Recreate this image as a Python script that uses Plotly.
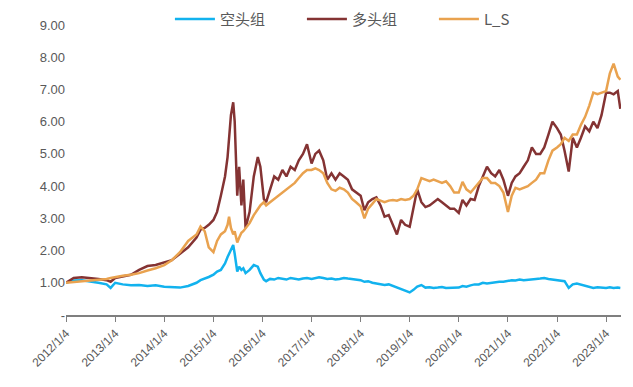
import plotly.graph_objects as go

DATES = [
    "2012-01-04", "2012-03-01", "2012-05-01", "2012-07-01", "2012-09-01", "2012-11-01", "2012-12-01",
    "2013-01-04", "2013-03-01", "2013-05-01", "2013-07-01", "2013-09-01", "2013-11-01",
    "2014-01-04", "2014-03-01", "2014-05-01", "2014-07-01", "2014-09-01", "2014-10-01", "2014-11-01", "2014-12-01",
    "2015-01-05", "2015-02-01", "2015-03-01", "2015-04-01", "2015-04-20", "2015-05-01", "2015-05-15",
    "2015-06-01", "2015-06-12", "2015-07-01", "2015-07-15", "2015-08-01", "2015-08-15", "2015-09-01",
    "2015-10-01", "2015-11-01", "2015-12-01", "2015-12-20",
    "2016-01-15", "2016-02-01", "2016-03-01", "2016-04-01", "2016-05-01", "2016-06-01", "2016-07-01",
    "2016-08-01", "2016-09-01", "2016-10-01", "2016-11-01", "2016-12-01",
    "2017-01-04", "2017-02-01", "2017-03-01", "2017-04-01", "2017-05-01", "2017-06-01", "2017-07-01",
    "2017-08-01", "2017-09-01", "2017-10-01", "2017-11-01", "2017-12-01",
    "2018-01-04", "2018-02-01", "2018-03-01", "2018-04-01", "2018-05-01", "2018-06-01", "2018-07-01",
    "2018-08-01", "2018-09-01", "2018-10-01", "2018-11-01", "2018-12-01",
    "2019-01-04", "2019-02-01", "2019-03-01", "2019-04-01", "2019-05-01", "2019-06-01", "2019-07-01",
    "2019-08-01", "2019-09-01", "2019-10-01", "2019-11-01", "2019-12-01",
    "2020-01-04", "2020-02-01", "2020-03-01", "2020-04-01", "2020-05-01", "2020-06-01", "2020-07-01",
    "2020-08-01", "2020-09-01", "2020-10-01", "2020-11-01", "2020-12-01",
    "2021-01-04", "2021-02-01", "2021-03-01", "2021-04-01", "2021-05-01", "2021-06-01", "2021-07-01",
    "2021-08-01", "2021-09-01", "2021-10-01", "2021-11-01", "2021-12-01",
    "2022-01-04", "2022-02-01", "2022-03-01", "2022-04-01", "2022-05-01", "2022-06-01", "2022-07-01",
    "2022-08-01", "2022-09-01", "2022-10-01", "2022-11-01", "2022-12-01",
    "2023-01-04", "2023-02-01", "2023-03-01", "2023-04-01", "2023-04-20",
]

SHORT = [  # 空头组
    1.00, 1.07, 1.08, 1.05, 1.00, 0.95, 0.84,
    1.00, 0.95, 0.92, 0.93, 0.90, 0.92,
    0.88, 0.87, 0.85, 0.90, 1.00, 1.08, 1.12, 1.18,
    1.25, 1.35, 1.40, 1.60, 1.80, 1.90, 2.05,
    2.17, 1.90, 1.35, 1.50, 1.40, 1.45, 1.30,
    1.40, 1.55, 1.50, 1.30,
    1.10, 1.05, 1.12, 1.10, 1.15, 1.12, 1.10,
    1.15, 1.12, 1.10, 1.13, 1.15,
    1.12, 1.15, 1.17, 1.15, 1.12, 1.13, 1.10,
    1.12, 1.15, 1.13, 1.12, 1.10,
    1.08, 1.03, 1.05, 1.00, 0.98, 0.95, 0.93,
    0.95, 0.90, 0.85, 0.80, 0.75,
    0.70, 0.78, 0.88, 0.93, 0.85, 0.86, 0.84,
    0.85, 0.87, 0.84, 0.85, 0.86,
    0.85, 0.90, 0.88, 0.92, 0.95, 0.95, 1.00,
    0.98, 1.00, 1.02, 1.03, 1.03,
    1.05, 1.08, 1.07, 1.10, 1.08, 1.10, 1.10,
    1.12, 1.13, 1.15, 1.12, 1.10,
    1.10, 1.08, 1.05, 0.84, 0.95, 0.98, 0.95,
    0.92, 0.88, 0.84, 0.86, 0.85,
    0.84, 0.86, 0.84, 0.85, 0.84,
]

LONG = [  # 多头组
    1.00, 1.15, 1.17, 1.15, 1.12, 1.08, 1.03,
    1.15, 1.20, 1.25, 1.40, 1.52, 1.55,
    1.62, 1.70, 1.90, 2.10, 2.40, 2.65, 2.70, 2.80,
    2.95, 3.20, 3.70, 4.30, 4.90, 5.50, 6.20,
    6.60, 6.00, 3.70, 4.60, 3.40, 4.20, 2.70,
    3.20, 4.30, 4.90, 4.60,
    3.60, 3.50, 3.90, 4.30, 4.20, 4.50, 4.30,
    4.60, 4.50, 4.80, 5.00, 5.30,
    4.70, 5.00, 5.10, 4.80, 4.20, 4.40, 4.20,
    4.40, 4.30, 4.20, 3.90, 3.80,
    3.70, 3.25, 3.50, 3.60, 3.65, 3.40, 3.05,
    3.10, 2.80, 2.50, 2.95, 2.80,
    2.74, 3.30, 3.90, 3.50, 3.35, 3.40, 3.50,
    3.60, 3.50, 3.40, 3.30, 3.30,
    3.17, 3.57, 3.40, 3.60, 3.57, 4.00, 4.30,
    4.60, 4.40, 4.30, 4.50, 4.20,
    3.70, 4.10, 4.30, 4.40, 4.60, 4.80, 5.20,
    5.00, 5.00, 5.20, 5.60, 6.00,
    5.80, 5.60, 5.10, 4.45, 5.50, 5.20, 5.50,
    5.85, 5.70, 6.00, 5.80, 6.20,
    6.90, 6.90, 6.85, 6.95, 6.40,
]

LS = [  # L_S
    1.00, 1.02, 1.05, 1.08, 1.10, 1.12, 1.15,
    1.18, 1.22, 1.25, 1.30, 1.38, 1.45,
    1.55, 1.70, 1.95, 2.30, 2.50, 2.75, 2.60, 2.10,
    1.95, 2.30, 2.50, 2.60, 2.80, 3.05, 2.70,
    2.50, 2.60, 2.25, 2.40, 2.55, 2.60, 2.70,
    2.85, 3.10, 3.30, 3.40,
    3.50, 3.40, 3.50, 3.60, 3.70, 3.80, 3.90,
    4.00, 4.10, 4.25, 4.40, 4.50,
    4.50, 4.55, 4.50, 4.40, 4.10, 3.90, 3.85,
    3.95, 3.90, 3.80, 3.60, 3.50,
    3.37, 3.00, 3.30, 3.45, 3.60, 3.55, 3.50,
    3.55, 3.57, 3.55, 3.60, 3.57,
    3.60, 3.70, 3.90, 4.25, 4.20, 4.15, 4.20,
    4.15, 4.10, 4.15, 4.00, 3.80,
    3.80, 4.13, 3.90, 3.80, 3.95, 4.10, 4.25,
    4.25, 4.10, 4.10, 4.00, 3.80,
    3.20, 3.70, 3.95, 3.90, 3.95, 4.00, 4.10,
    4.20, 4.40, 4.40, 4.80, 5.10,
    5.20, 5.30, 5.50, 5.40, 5.60, 5.60, 5.90,
    6.15, 6.50, 6.90, 6.85, 6.90,
    6.95, 7.50, 7.80, 7.40, 7.30,
]

TICK_DATES = ["2012-01-04", "2013-01-04", "2014-01-04", "2015-01-04", "2016-01-04", "2017-01-04",
              "2018-01-04", "2019-01-04", "2020-01-04", "2021-01-04", "2022-01-04", "2023-01-04"]
TICK_TEXT = ["2012/1/4", "2013/1/4", "2014/1/4", "2015/1/4", "2016/1/4", "2017/1/4",
             "2018/1/4", "2019/1/4", "2020/1/4", "2021/1/4", "2022/1/4", "2023/1/4"]
Y_TICKS = [0, 1, 2, 3, 4, 5, 6, 7, 8, 9]
Y_TEXT = ["-", "1.00", "2.00", "3.00", "4.00", "5.00", "6.00", "7.00", "8.00", "9.00"]

SERIES = [("空头组", SHORT, "#12B2EE"), ("多头组", LONG, "#843333"), ("L_S", LS, "#E9A24F")]

fig = go.Figure()
for name, vals, color in SERIES:
    fig.add_trace(go.Scatter(x=DATES, y=vals, name=name, mode="lines",
                             line=dict(color=color, width=2.5)))

# the page body adds an 8px offset, so the figure is sized to fit the 633x387 window
fig.update_layout(
    width=625, height=379,
    margin=dict(l=58, r=12, t=17, b=72, autoexpand=False),
    paper_bgcolor="white", plot_bgcolor="white",
    font=dict(family="Liberation Sans, Arial, Noto Sans CJK SC", color="#595959", size=13),
    showlegend=True,
    legend=dict(orientation="h", x=0.544, xanchor="center", y=1.02, yanchor="middle",
                font=dict(family="Noto Sans CJK SC, Liberation Sans", size=15, color="#595959"),
                itemwidth=40, entrywidth=77, entrywidthmode="pixels", traceorder="normal",
                bgcolor="rgba(0,0,0,0)"),
    xaxis=dict(type="date", range=["2012-01-04", "2023-04-25"],
               tickvals=TICK_DATES, ticktext=TICK_TEXT, tickangle=-45,
               showgrid=False, zeroline=False, showline=True, linecolor="#7f7f7f", linewidth=1.5,
               ticks="outside", ticklen=5, tickcolor="#7f7f7f", tickwidth=1,
               tickfont=dict(size=12, color="#595959")),
    yaxis=dict(range=[0, 9], tickvals=Y_TICKS, ticktext=Y_TEXT,
               showgrid=False, zeroline=False, showline=False, ticks="",
               tickfont=dict(size=13, color="#595959")),
)

fig.write_html("out.html")
